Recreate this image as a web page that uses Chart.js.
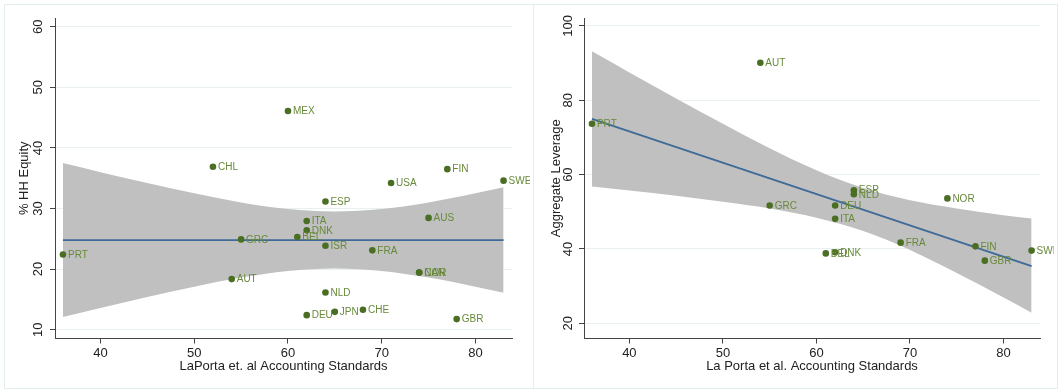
<!DOCTYPE html>
<html>
<head>
<meta charset="utf-8">
<script src="https://cdn.jsdelivr.net/npm/chart.js@4.4.0/dist/chart.umd.min.js"></script>
<style>
  body { margin: 0; background: #fff; width: 1062px; height: 390px; overflow: hidden; position: relative; }
  .frame { position: absolute; top: 4px; height: 385px; border: 1px solid #e3ecee; box-sizing: border-box; }
  canvas { position: absolute; top: 4px; }
</style>
</head>
<body>
<div class="frame" style="left:4px;width:530px;"></div>
<div class="frame" style="left:533px;width:525px;"></div>
<canvas id="equity" width="526" height="385" style="left:4px;"></canvas>
<canvas id="leverage" width="521" height="385" style="left:533px;"></canvas>
<script>
// left panel: household equity share vs accounting standards
var eqCountries = ["PRT", "AUT", "GRC", "CHL", "MEX", "BEL", "ITA", "DNK", "DEU", "ESP", "ISR",
	"NLD", "JPN", "CHE", "FRA", "USA", "CAN", "NOR", "AUS", "FIN", "GBR", "SWE"];
var eqStandards = [36, 54, 55, 52, 60, 61, 62, 62, 62, 64, 64, 64, 65, 68, 69, 71, 74, 74, 75, 77, 78, 83];
var eqShare = [22.4, 18.35, 24.9, 36.9, 46.1, 25.3, 27.95, 26.4, 12.4, 31.15, 23.85,
	16.15, 12.95, 13.3, 23.1, 34.2, 19.45, 19.45, 28.45, 36.5, 11.75, 34.6];

// right panel: aggregate leverage vs accounting standards
var levCountries = ["PRT", "AUT", "GRC", "BEL", "DNK", "DEU", "ITA", "ESP", "NLD", "FRA", "NOR", "FIN", "GBR", "SWE"];
var levStandards = [36, 54, 55, 61, 62, 62, 62, 64, 64, 69, 74, 77, 78, 83];
var levLeverage = [73.7, 90.1, 51.7, 38.8, 39.1, 51.7, 48.1, 55.8, 54.7, 41.7, 53.6, 40.7, 36.85, 39.55];

// fitted lines and 95% bands
var fitX = [36, 83];
var eqFit = [24.8, 24.8];
var levFit = [75.0, 35.4];
var bandX = [36, 40, 45, 50, 55, 60, 65, 70, 75, 80, 83];
var eqUpper = [37.5, 36.0, 34.2, 32.5, 31.0, 29.9, 29.5, 29.9, 31.0, 32.5, 33.5];
var eqLower = [12.1, 13.6, 15.4, 17.1, 18.6, 19.7, 20.1, 19.7, 18.6, 17.1, 16.1];
var levUpper = [93.2, 87.5, 80.5, 73.7, 67.1, 61.2, 56.4, 53.1, 50.9, 49.1, 48.2];
var levLower = [56.8, 55.7, 54.3, 52.7, 50.9, 48.4, 44.8, 39.7, 33.5, 26.9, 22.8];

var xTicks = [40, 50, 60, 70, 80];
var eqTicks = [10, 20, 30, 40, 50, 60];
var levTicks = [20, 40, 60, 80, 100];

var fontFamily = '"Liberation Sans", Arial, Helvetica, sans-serif';

function pts(xs, ys) {
	return xs.map(function (x, i) { return { x: x, y: ys[i] }; });
}

// country names next to the markers
var pointLabels = {
	id: 'pointLabels',
	afterDatasetsDraw: function (chart) {
		var ctx = chart.ctx;
		var meta = chart.getDatasetMeta(0);
		var names = chart.data.datasets[0].names;
		ctx.save();
		ctx.font = '10px ' + fontFamily;
		ctx.fillStyle = '#67893a';
		ctx.textAlign = 'left';
		ctx.textBaseline = 'middle';
		meta.data.forEach(function (el, i) {
			ctx.fillText(names[i], el.x + 5, el.y + 0.5);
		});
		ctx.restore();
	}
};

function makeChart(id, names, xs, ys, fit, upper, lower, yTicks, yMin, yMax, xTitle, yTitle, padRight, tickPad, titlePad) {
	var ctx = document.getElementById(id);
	return new Chart(ctx, {
		type: "line",
		data: {
			datasets: [{
					names: names,
					data: pts(xs, ys),
					showLine: false,
					pointRadius: 3.3,
					pointHoverRadius: 3.3,
					pointBorderWidth: 0,
					pointBackgroundColor: "#4a6e22"
				},
				{
					data: pts(fitX, fit),
					borderColor: "#3e6a98",
					borderWidth: 1.8,
					pointRadius: 0,
					fill: false
				},
				{
					data: pts(bandX, upper),
					borderColor: "rgba(0,0,0,0)",
					borderWidth: 0,
					pointRadius: 0,
					backgroundColor: "#c0c0c0",
					cubicInterpolationMode: "monotone",
					fill: "+1"
				},
				{
					data: pts(bandX, lower),
					borderColor: "rgba(0,0,0,0)",
					borderWidth: 0,
					pointRadius: 0,
					cubicInterpolationMode: "monotone",
					fill: false
				}
			]
		},
		options: {
			responsive: false,
			animation: false,
			devicePixelRatio: 1,
			layout: { padding: { top: 14, right: padRight, bottom: 0, left: 0 } },
			plugins: {
				legend: { display: false },
				tooltip: { enabled: false }
			},
			scales: {
				x: {
					type: "linear",
					min: 35.15,
					max: 83.9,
					afterBuildTicks: function (s) { s.ticks = xTicks.map(function (v) { return { value: v }; }); },
					afterFit: function (s) { s.height = 50.5; },
					grid: { drawOnChartArea: false, drawTicks: true, tickLength: 5, tickColor: "#444" },
					border: { color: "#444", width: 1 },
					ticks: { font: { family: fontFamily, size: 13 }, color: "#222", padding: 2, maxRotation: 0 },
					title: {
						display: true,
						text: xTitle,
						color: "#222",
						font: { family: fontFamily, size: 13 },
						padding: { top: 0, bottom: 15 }
					}
				},
				y: {
					min: yMin,
					max: yMax,
					afterBuildTicks: function (s) { s.ticks = yTicks.map(function (v) { return { value: v }; }); },
					afterFit: function (s) { s.width = 51; },
					grid: { color: "#e8f0f1", tickColor: "#444", tickLength: 5 },
					border: { color: "#444", width: 1 },
					ticks: {
						font: { family: fontFamily, size: 13 },
						color: "#222",
						minRotation: 90,
						maxRotation: 90,
						crossAlign: "center",
						padding: tickPad
					},
					title: {
						display: true,
						text: yTitle,
						color: "#222",
						font: { family: fontFamily, size: 13 },
						padding: { top: titlePad, bottom: 0 }
					}
				}
			}
		},
		plugins: [pointLabels]
	});
}

makeChart("equity", eqCountries, eqStandards, eqShare, eqFit, eqUpper, eqLower,
	eqTicks, 8.55, 61.44, "LaPorta et. al Accounting Standards", "% HH Equity", 18, 4, 13);
makeChart("leverage", levCountries, levStandards, levLeverage, levFit, levUpper, levLower,
	levTicks, 15.9, 102.15, "La Porta et al. Accounting Standards", "Aggregate Leverage", 14, 0, 16);
</script>
</body>
</html>
